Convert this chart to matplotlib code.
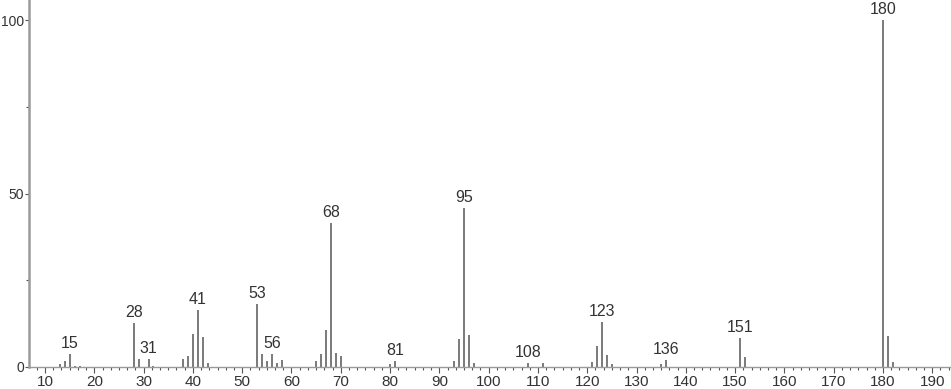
import matplotlib.pyplot as plt
from matplotlib.ticker import MultipleLocator

plt.rcParams['font.family'] = ['Liberation Sans', 'DejaVu Sans']

# mass spectrum, m/z vs relative intensity
mz = [13, 14, 15, 16, 17, 28, 29, 31, 32, 38, 39, 40, 41, 42, 43,
      53, 54, 55, 56, 57, 58, 65, 66, 67, 68, 69, 70, 80, 81,
      93, 94, 95, 96, 97, 108, 111, 121, 122, 123, 124, 125,
      135, 136, 151, 152, 180, 181, 182]
intensity = [0.9, 1.7, 3.7, 0.4, 0.3, 12.8, 2.3, 2.3, 0.3, 2.3, 3.2, 9.5, 16.4, 8.6, 1.2,
             18.2, 3.7, 1.7, 3.7, 1.2, 2.0, 1.7, 3.8, 10.7, 41.5, 4.0, 3.2, 1.0, 1.7,
             1.6, 8.1, 45.8, 9.2, 1.2, 1.2, 1.1, 1.4, 6.1, 13.0, 3.4, 0.9,
             1.0, 2.0, 8.5, 2.9, 100.0, 8.8, 1.4]
labeled = [15, 28, 31, 41, 53, 56, 68, 81, 95, 108, 123, 136, 151, 180]

fig = plt.figure(figsize=(9.51, 3.89), dpi=100)
ax = fig.add_axes([29 / 951, 22 / 389, 922 / 951, 367 / 389])

ax.vlines(mz, 0, intensity, color='#707070', lw=1.3)
for m, v in zip(mz, intensity):
    if m in labeled:
        ax.text(m, v + 0.8, str(m), ha='center', va='bottom', fontsize=11.5, color='#333333')

ax.set_xlim(6.75, 193.8)
ax.set_ylim(0, 105.8)

ax.spines['top'].set_visible(False)
ax.spines['right'].set_visible(False)
for s in ('left', 'bottom'):
    ax.spines[s].set_color('#9a9a9a')
ax.spines['left'].set_linewidth(1.8)
ax.spines['bottom'].set_linewidth(1.0)

ax.xaxis.set_major_locator(MultipleLocator(10))
ax.xaxis.set_minor_locator(MultipleLocator(10 / 6))
ax.set_xticks(range(10, 191, 10))
ax.yaxis.set_major_locator(MultipleLocator(50))
ax.yaxis.set_minor_locator(MultipleLocator(25))
ax.tick_params(which='major', length=4, width=0.8, color='#555555', labelsize=11,
               labelcolor='#333333', pad=2)
ax.tick_params(which='minor', length=2.5, width=0.8, color='#555555')
ax.tick_params(axis='y', which='major', length=3, pad=0.3, labelsize=10)

fig.savefig('out.png', dpi=100)
